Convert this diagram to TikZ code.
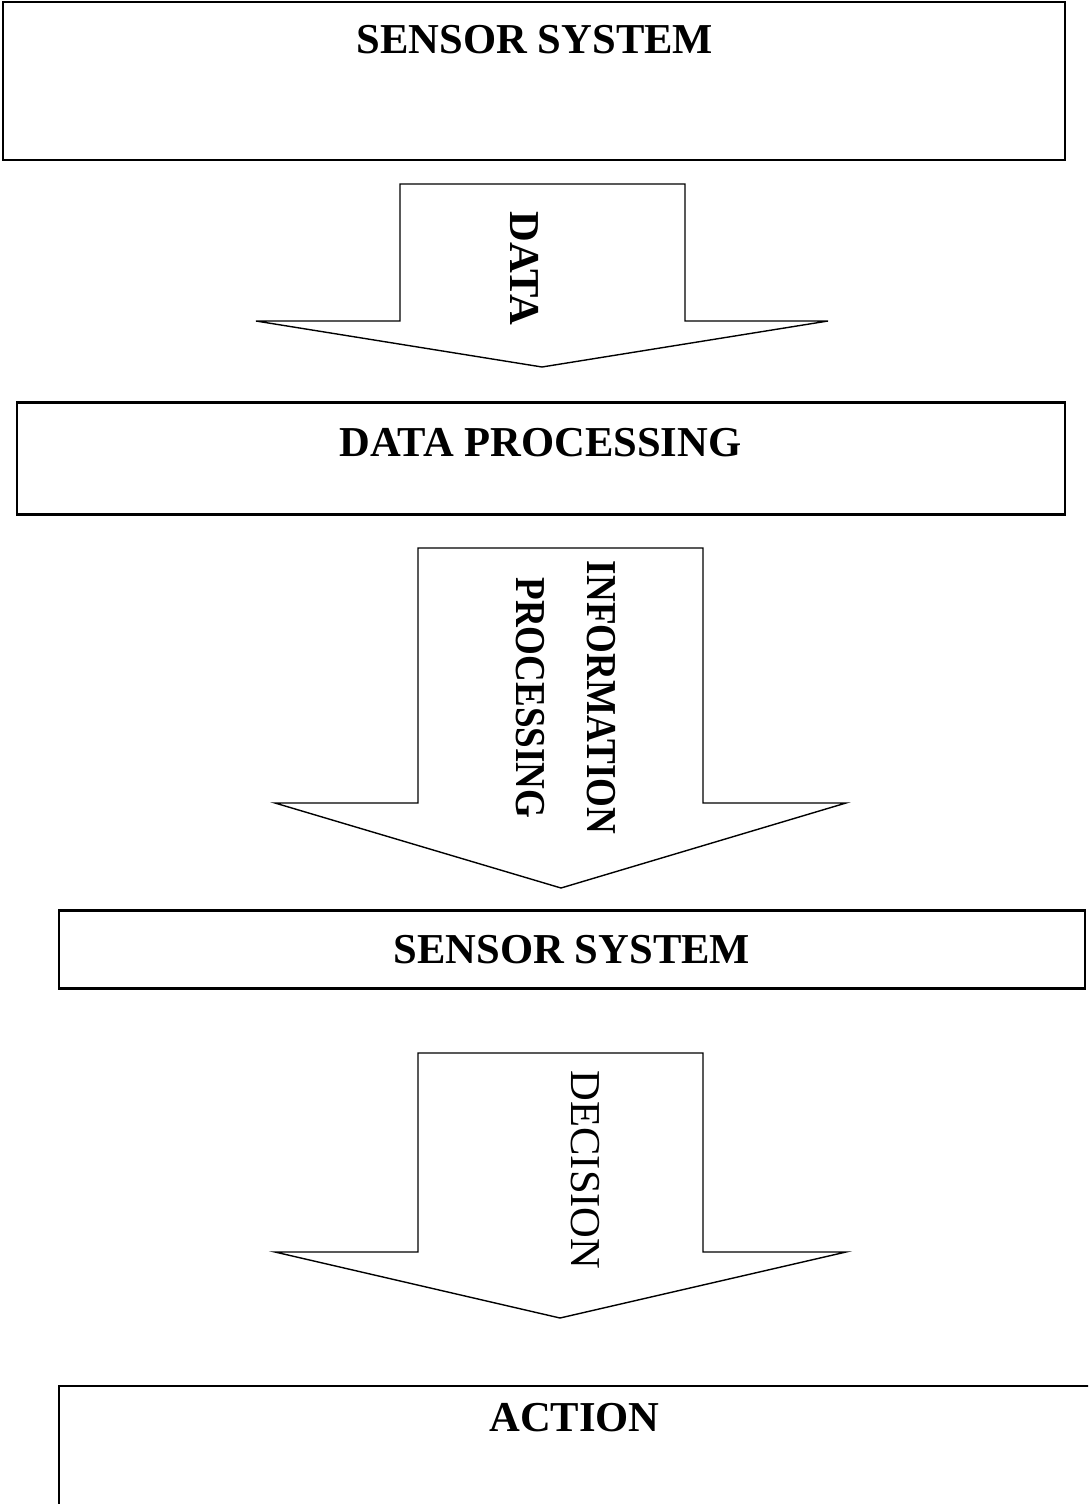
\documentclass[tikz,border=0pt]{standalone}
\usepackage{fontspec}
\setmainfont{Liberation Serif}
\usepackage{graphicx}
\begin{document}
\begin{tikzpicture}[x=1pt,y=-1pt,
  stagebox/.style={draw=black,line width=2.2pt,inner sep=0pt},
  flowarrow/.style={draw=black,line width=1.4pt,line join=miter},
  heading/.style={font=\fontsize{42.6}{50}\selectfont\bfseries,inner sep=0pt,anchor=base},
  sidelabel/.style={font=\fontsize{42.6}{50}\selectfont\bfseries,inner sep=0pt,anchor=base,rotate=-90},
  plainside/.style={font=\fontsize{42.6}{50}\selectfont,inner sep=0pt,anchor=base,rotate=-90}]
\useasboundingbox (0,0) rectangle (1088,1504);
\clip (0,0) rectangle (1088,1504);

% stage boxes
\node[stagebox,minimum width=1062pt,minimum height=158pt] (sensortop) at (534,81) {};
\node[stagebox,minimum width=1048pt,minimum height=112pt] (processing) at (541,458.5) {};
\node[stagebox,minimum width=1026pt,minimum height=78pt] (sensorlow) at (572,949.5) {};
\node[stagebox,minimum width=1060pt,minimum height=160pt] (action) at (589,1466) {};

% stage titles
\node[heading] (sensortoplbl) at (535,54) {SENSOR SYSTEM};
\node[heading] (processinglbl) at (540.5,456) {DATA PROCESSING};
\node[heading] (sensorlowlbl) at (572,963) {SENSOR SYSTEM};
\node[heading] (actionlbl) at (574.5,1431) {ACTION};

% block arrows between the stages
\draw[flowarrow] (400,184) -- (685,184) -- (685,321) -- (828,321) -- (542,367)
  -- (256,321) -- (400,321) -- cycle;
\draw[flowarrow] (418,548) -- (703,548) -- (703,803) -- (846,803) -- (561,888)
  -- (275,803) -- (418,803) -- cycle;
\draw[flowarrow] (418,1053) -- (703,1053) -- (703,1252) -- (846,1252) -- (560,1318)
  -- (275,1252) -- (418,1252) -- cycle;

% arrow captions, running downwards
\node[sidelabel] (datalbl) at (510,268.5) {DATA};
\node[sidelabel] (infolbl) at (587,697.5) {\scalebox{0.87}[1]{INFORMATION}};
\node[sidelabel] (proclbl) at (516,698) {\scalebox{0.87}[1]{PROCESSING}};
\node[plainside] (decisionlbl) at (571,1170) {DECISION};
\end{tikzpicture}
\end{document}
